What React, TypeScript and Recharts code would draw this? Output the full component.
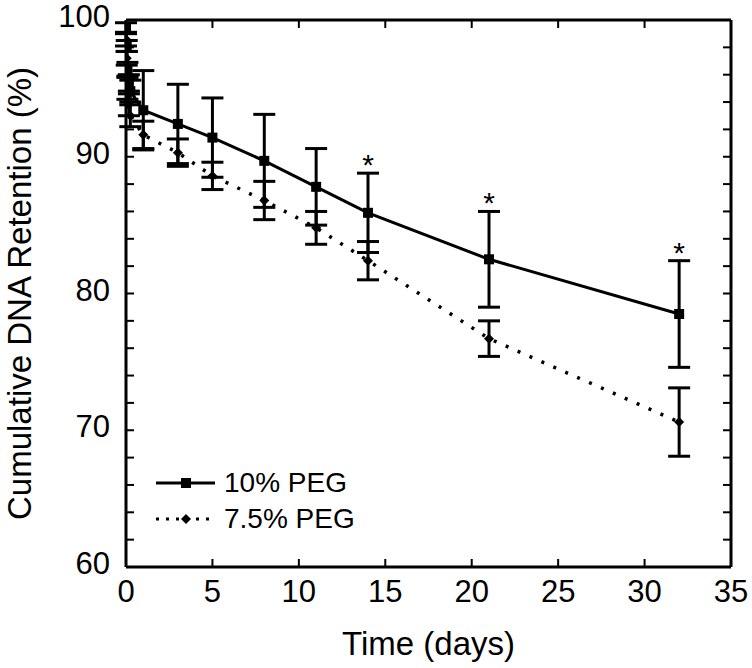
import React from 'react';
import { ComposedChart, Line, Scatter, XAxis, YAxis, ErrorBar, Legend } from 'recharts';

const times = [0, 0.042, 0.083, 0.167, 0.25, 1, 3, 5, 8, 11, 14, 21, 32];
const peg10 = [99.4, 98.1, 96.4, 95.4, 94.8, 93.4, 92.4, 91.4, 89.7, 87.8, 85.9, 82.5, 78.5];
const peg10Err = [0.4, 0.4, 0.5, 0.6, 0.8, 2.9, 2.9, 2.9, 3.4, 2.8, 2.9, 3.5, 3.9];
const peg75 = [98.6, 97.2, 95.0, 93.8, 93.0, 91.6, 90.3, 88.6, 86.8, 84.8, 82.4, 76.7, 70.6];
const peg75Err = [0.5, 0.5, 0.8, 0.8, 0.8, 1.0, 1.0, 1.0, 1.4, 1.2, 1.4, 1.3, 2.5];
const starTimes = [14, 21, 32];
const starVals = [89.9, 87.1, 83.5];
const xTicks = [0, 5, 10, 15, 20, 25, 30, 35];
const yTicks = [60, 62, 64, 66, 68, 70, 72, 74, 76, 78, 80, 82, 84, 86, 88, 90, 92, 94, 96, 98, 100];
const seriesNames = ['10% PEG', '7.5% PEG'];

const data10 = times.map((t, i) => ({ t, v: peg10[i], e: peg10Err[i] }));
const data75 = times.map((t, i) => ({ t, v: peg75[i], e: peg75Err[i] }));
const starData = starTimes.map((t, i) => ({ t, v: starVals[i] }));

const FONT = '"Liberation Sans", Arial, sans-serif';

const CHART_W = 752;
const CHART_H = 668;
const TOP_AXIS_H = 20;
const RIGHT_AXIS_W = 21;
const PLOT_TOP = TOP_AXIS_H;
const PLOT_RIGHT = CHART_W - RIGHT_AXIS_W;
const MIRROR_TICK = 8;

const Square = (props: any) => {
  const { cx, cy, index } = props;
  if (cx == null || cy == null) return <g key={`s-${index}`} />;
  return <rect key={`s-${index}`} x={cx - 5} y={cy - 5} width={10} height={10} fill="#000" />;
};

const Diamond = (props: any) => {
  const { cx, cy, index } = props;
  if (cx == null || cy == null) return <g key={`d-${index}`} />;
  return (
    <path
      key={`d-${index}`}
      d={`M${cx},${cy - 5} L${cx + 5},${cy} L${cx},${cy + 5} L${cx - 5},${cy} Z`}
      fill="#000"
    />
  );
};

const Star = (props: any) => {
  const { cx, cy } = props;
  return (
    <text x={cx} y={cy + 17} textAnchor="middle" fontSize={30} fontFamily={FONT} fill="#000">
      *
    </text>
  );
};

const XTick = (props: any) => {
  const { x, y, payload } = props;
  return (
    <g>
      <text x={x} y={y} dy="0.71em" textAnchor="middle" fontSize={31} fontFamily={FONT} fill="#000">
        {payload.value}
      </text>
      <line x1={x} y1={PLOT_TOP} x2={x} y2={PLOT_TOP + MIRROR_TICK} stroke="#000" strokeWidth={2} />
    </g>
  );
};

const YTick = (props: any) => {
  const { x, y, payload } = props;
  return (
    <g>
      {payload.value % 10 === 0 ? (
        <text x={x} y={y - 4} dy="0.355em" textAnchor="end" fontSize={31} fontFamily={FONT} fill="#000">
          {payload.value}
        </text>
      ) : null}
      <line x1={PLOT_RIGHT} y1={y} x2={PLOT_RIGHT - MIRROR_TICK} y2={y} stroke="#000" strokeWidth={2} />
    </g>
  );
};

const LegendContent = () => (
  <div style={{ fontFamily: FONT, fontSize: 28, color: '#000', lineHeight: '36px' }}>
    {seriesNames.map((name, i) => (
      <div key={name} style={{ display: 'flex', alignItems: 'center', height: 36 }}>
        <svg width={62} height={20} style={{ marginRight: 7 }}>
          <line
            x1={1}
            y1={10}
            x2={60}
            y2={10}
            stroke="#000"
            strokeWidth={3}
            strokeDasharray={i === 1 ? '3 7' : undefined}
          />
          {i === 0 ? (
            <rect x={26} y={5} width={10} height={10} fill="#000" />
          ) : (
            <path d="M31,5 L36,10 L31,15 L26,10 Z" fill="#000" />
          )}
        </svg>
        <span>{name}</span>
      </div>
    ))}
  </div>
);

export default function App() {
  return (
    <div style={{ position: 'absolute', left: 0, top: 0, width: CHART_W, height: CHART_H }}>
      <ComposedChart
        width={CHART_W}
        height={CHART_H}
        margin={{ top: 0, right: 0, left: 0, bottom: 41 }}
        style={{ fontFamily: FONT }}
      >
        <XAxis
          dataKey="t"
          type="number"
          domain={[0, 35]}
          ticks={xTicks}
          allowDataOverflow
          interval={0}
          height={60}
          tickSize={-8}
          tickMargin={21}
          axisLine={{ stroke: '#000', strokeWidth: 3 }}
          tickLine={{ stroke: '#000', strokeWidth: 2 }}
          tick={XTick}
          label={{ value: 'Time (days)', position: 'bottom', offset: 5, fill: '#000', fontSize: 33, fontFamily: FONT }}
        />
        <XAxis
          xAxisId="top"
          orientation="top"
          dataKey="t"
          type="number"
          domain={[0, 35]}
          ticks={xTicks}
          allowDataOverflow
          height={TOP_AXIS_H}
          tick={false}
          tickLine={false}
          axisLine={{ stroke: '#000', strokeWidth: 3 }}
        />
        <YAxis
          type="number"
          domain={[60, 100]}
          ticks={yTicks}
          allowDataOverflow
          interval={0}
          width={126}
          tickSize={-8}
          tickMargin={24}
          axisLine={{ stroke: '#000', strokeWidth: 3 }}
          tickLine={{ stroke: '#000', strokeWidth: 2 }}
          tick={YTick}
          label={{
            value: 'Cumulative DNA Retention (%)',
            angle: -90,
            position: 'insideLeft',
            offset: 19,
            fill: '#000',
            fontSize: 33,
            fontFamily: FONT,
            style: { textAnchor: 'middle' },
          }}
        />
        <YAxis
          yAxisId="right"
          orientation="right"
          type="number"
          domain={[60, 100]}
          ticks={yTicks}
          allowDataOverflow
          width={RIGHT_AXIS_W}
          tick={false}
          tickLine={false}
          axisLine={{ stroke: '#000', strokeWidth: 3 }}
        />
        <Legend
          layout="vertical"
          align="center"
          verticalAlign="middle"
          content={<LegendContent />}
          wrapperStyle={{ left: 155, top: 465, width: 250 }}
        />
        <Line
          data={data10}
          dataKey="v"
          xAxisId="top"
          yAxisId="right"
          stroke="none"
          dot={false}
          activeDot={false}
          legendType="none"
          isAnimationActive={false}
        />
        <Line
          data={data75}
          dataKey="v"
          name={seriesNames[1]}
          type="linear"
          stroke="#000"
          strokeWidth={3.5}
          strokeDasharray="3 10"
          dot={Diamond}
          activeDot={false}
          isAnimationActive={false}
        >
          <ErrorBar dataKey="e" direction="y" width={11} strokeWidth={3} stroke="#000" />
        </Line>
        <Line
          data={data10}
          dataKey="v"
          name={seriesNames[0]}
          type="linear"
          stroke="#000"
          strokeWidth={3}
          dot={Square}
          activeDot={false}
          isAnimationActive={false}
        >
          <ErrorBar dataKey="e" direction="y" width={11} strokeWidth={3} stroke="#000" />
        </Line>
        <Scatter data={starData} dataKey="v" shape={Star} isAnimationActive={false} />
      </ComposedChart>
    </div>
  );
}
